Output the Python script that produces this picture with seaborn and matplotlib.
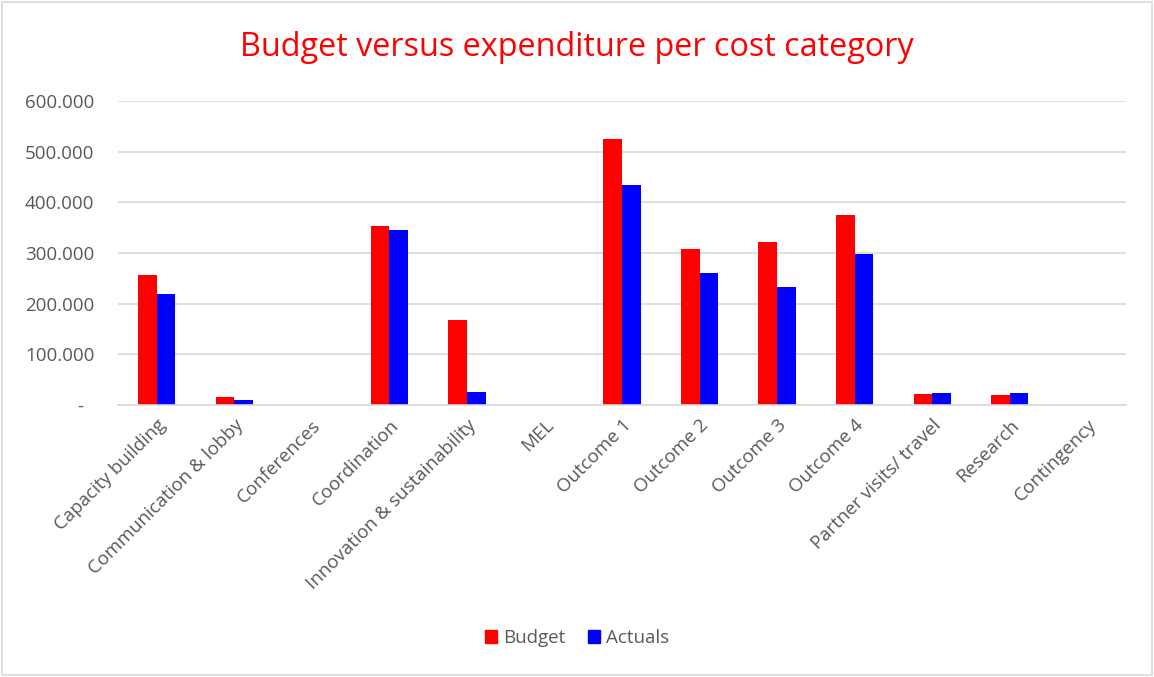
import matplotlib
matplotlib.use("Agg")
import matplotlib.pyplot as plt
import matplotlib.ticker as mticker
from matplotlib.patches import Rectangle
import seaborn as sns
import pandas as pd

categories = ["Capacity building", "Communication & lobby", "Conferences", "Coordination",
              "Innovation & sustainability", "MEL", "Outcome 1", "Outcome 2", "Outcome 3",
              "Outcome 4", "Partner visits/ travel", "Research", "Contingency"]
budget = [256000, 16000, 0, 353000, 168000, 0, 525000, 307000, 321000, 375000, 22000, 20000, 0]
actuals = [220000, 10500, 0, 346000, 26000, 0, 434000, 260000, 233000, 298000, 24000, 23000, 0]
series = ["Budget", "Actuals"]
yticks = [0, 100000, 200000, 300000, 400000, 500000, 600000]

df = pd.DataFrame({
    "Category": categories * 2,
    "Series": [series[0]] * len(categories) + [series[1]] * len(categories),
    "Value": budget + actuals,
})

sns.set_theme(style="white")
plt.rcParams['font.family'] = ['Open Sans', 'DejaVu Sans']

fig = plt.figure(figsize=(11.54, 6.77), dpi=100)
ax = fig.add_axes([118/1154, 1 - 405/677, 1008/1154, 304/677])

sns.barplot(data=df, x="Category", y="Value", hue="Series", order=categories,
            hue_order=series, palette={"Budget": "#FF0000", "Actuals": "#0000FF"},
            width=0.48, linewidth=0, saturation=1, errorbar=None, ax=ax)

ax.set_ylim(0, 600000)
ax.set_yticks(yticks)
ax.yaxis.set_major_formatter(mticker.FuncFormatter(
    lambda v, p: "-" if v == 0 else f"{int(v):,}".replace(",", ".")))
ax.grid(axis="y", color="#D9D9D9", linewidth=1.2)
ax.set_axisbelow(True)
for s in ["top", "right", "left"]:
    ax.spines[s].set_visible(False)
ax.spines["bottom"].set_color("#D9D9D9")
ax.spines["bottom"].set_linewidth(1.2)
ax.tick_params(axis="both", length=0, colors="#595959", labelsize=13.5)
ax.tick_params(axis="y", pad=17)
ax.set_xlabel("")
ax.set_ylabel("")
plt.setp(ax.get_xticklabels(), rotation=45, ha="right", rotation_mode="anchor")
ax.tick_params(axis="x", pad=8)

# shift the "-" zero label left, as in accounting format
fig.canvas.draw()
import matplotlib.transforms as mtrans
zero_lbl = ax.get_yticklabels()[0]
zero_lbl.set_transform(zero_lbl.get_transform() + mtrans.ScaledTranslation(-11/100, 0, fig.dpi_scale_trans))

ax.legend_.remove()
handles = [Rectangle((0, 0), 1, 1, color="#FF0000"), Rectangle((0, 0), 1, 1, color="#0000FF")]
fig.legend(handles, series, loc="center", bbox_to_anchor=(0.5, 1 - 638/677), ncol=2,
           frameon=False, fontsize=13.5, handlelength=0.65, handleheight=0.65,
           handletextpad=0.3, columnspacing=1.2, labelcolor="#595959")

fig.text(0.5, 1 - 47/677, "Budget versus expenditure per cost category", ha="center",
         va="center", color="#FF0000", fontsize=23.3)

fig.patches.append(Rectangle((2/1154, 2/677), 1 - 4/1154, 1 - 4/677, transform=fig.transFigure,
                             fill=False, edgecolor="#D9D9D9", linewidth=1.2))

fig.savefig("out.png", dpi=100)
